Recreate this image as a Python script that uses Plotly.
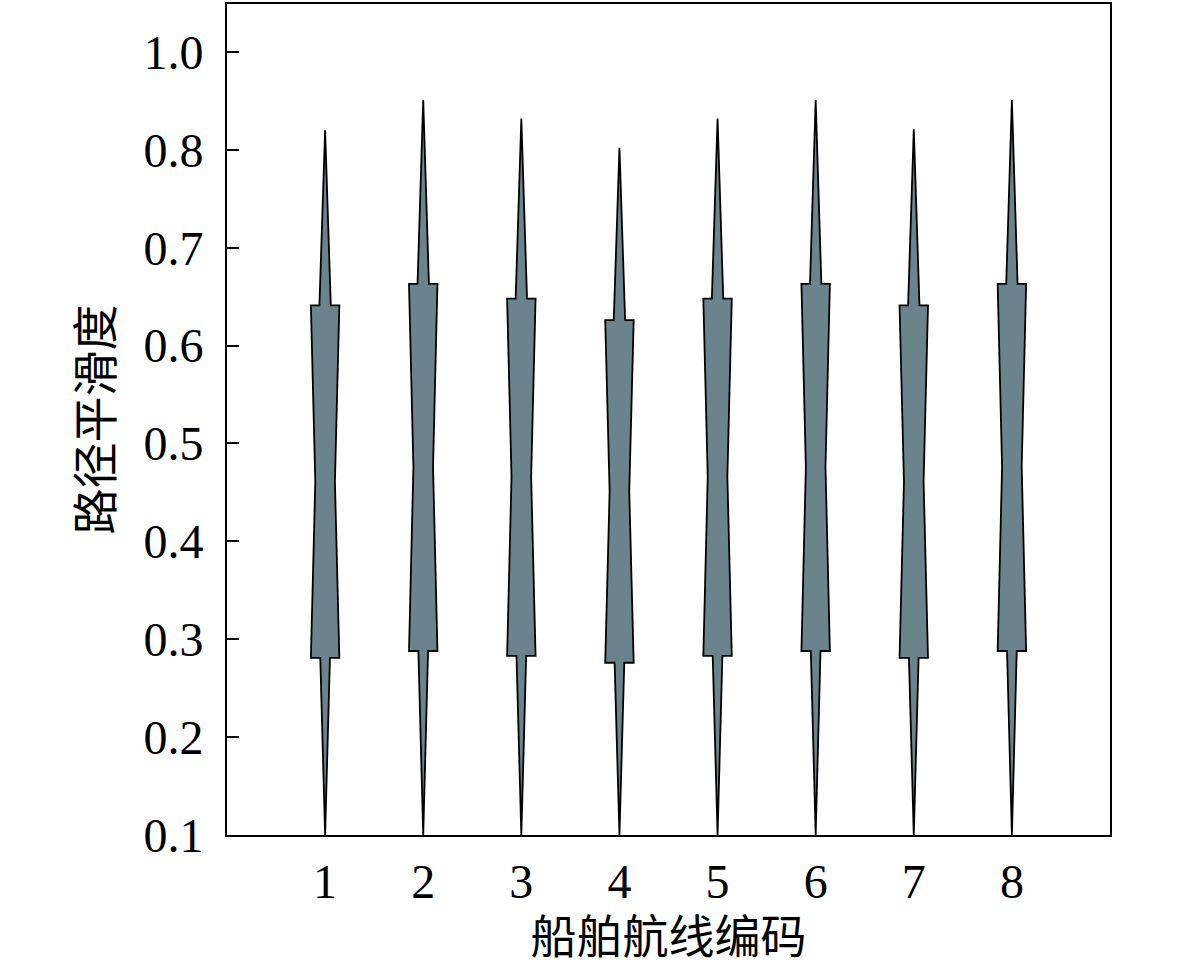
import plotly.graph_objects as go

# route ids and smoothness summary stats (min, q1, median, q3, max)
routes = [1, 2, 3, 4, 5, 6, 7, 8]
mins = [0.10, 0.10, 0.10, 0.10, 0.10, 0.10, 0.10, 0.10]
q1 = [0.281, 0.288, 0.283, 0.276, 0.283, 0.288, 0.281, 0.288]
medians = [0.461, 0.476, 0.466, 0.451, 0.466, 0.476, 0.461, 0.476]
q3 = [0.641, 0.663, 0.648, 0.626, 0.648, 0.663, 0.641, 0.663]
maxs = [0.820, 0.851, 0.832, 0.802, 0.832, 0.851, 0.821, 0.851]

# axis ticks (the top tick is labelled 1.0 in the original)
ytick_vals = [0.1, 0.2, 0.3, 0.4, 0.5, 0.6, 0.7, 0.8, 0.9]
ytick_text = ["0.1", "0.2", "0.3", "0.4", "0.5", "0.6", "0.7", "0.8", "1.0"]

FILL = "#6b838c"
box_w = 0.145   # half width of box at quartiles
waist_w = 0.10  # half width at median
spike_w = 0.058 # half width of spikes at the box

fig = go.Figure()
for i, r in enumerate(routes):
    xs = [r, r + spike_w, r + box_w, r + waist_w, r + box_w, r + spike_w * 0.85, r,
          r - spike_w * 0.85, r - box_w, r - waist_w, r - box_w, r - spike_w, r]
    ys = [maxs[i], q3[i], q3[i], medians[i], q1[i], q1[i], mins[i],
          q1[i], q1[i], medians[i], q3[i], q3[i], maxs[i]]
    fig.add_trace(go.Scatter(
        x=xs, y=ys, mode="lines", fill="toself", fillcolor=FILL,
        line=dict(color="black", width=1.8), hoverinfo="skip", showlegend=False,
    ))

font_stack = "Liberation Serif, Noto Sans CJK SC, serif"
fig.update_layout(
    width=1181, height=965,
    margin=dict(l=227, r=71, t=2, b=130),
    plot_bgcolor="white", paper_bgcolor="white",
    font=dict(family=font_stack, size=48, color="black"),
    showlegend=False,
)
fig.update_xaxes(
    range=[0, 9], tickvals=routes, ticktext=[str(r) for r in routes],
    showgrid=False, zeroline=False, showline=True, linecolor="black", linewidth=2,
    mirror=True, ticks="", ticklen=0, ticklabelstandoff=3,
    title=dict(text="船舶航线编码", font=dict(size=46, family=font_stack), standoff=14),
)
fig.update_yaxes(
    range=[0.1, 0.949], tickvals=ytick_vals, ticktext=ytick_text,
    showgrid=False, zeroline=False, showline=True, linecolor="black", linewidth=2,
    mirror=True, ticks="inside", ticklen=12, tickwidth=2, tickcolor="black",
    ticklabelstandoff=12,
    title=dict(text="路径平滑度", font=dict(size=46, family=font_stack), standoff=16),
)

fig.write_html("out.html", config={"displayModeBar": False},
               post_script="document.body.style.margin='0';")
